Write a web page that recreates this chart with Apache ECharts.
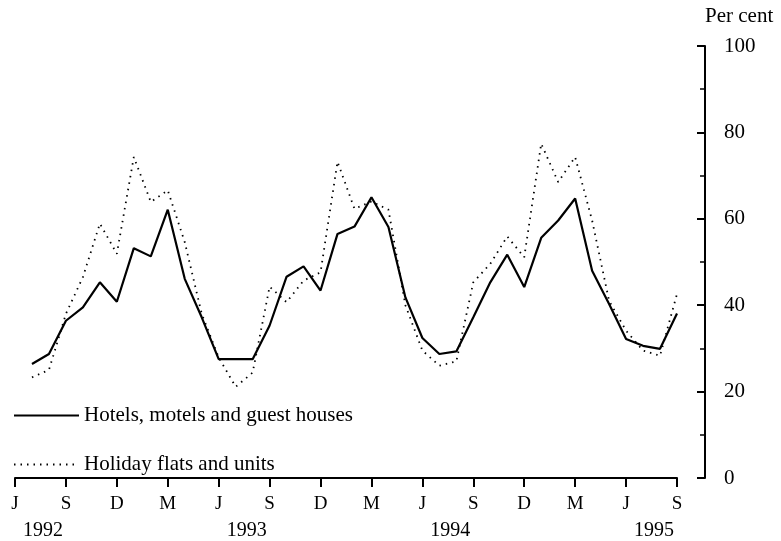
<!DOCTYPE html>
<html>
<head>
<meta charset="utf-8">
<script src="https://cdn.jsdelivr.net/npm/echarts@6/dist/echarts.min.js"></script>
<style>
html,body{margin:0;padding:0;background:#fff}
#chart{width:781px;height:541px}
</style>
</head>
<body>
<div id="chart"></div>
<script>
// months on the axis, Jun 1992 .. Sep 1995 (first month has no data)
var months = [
  '1992-06','1992-07','1992-08','1992-09','1992-10','1992-11','1992-12',
  '1993-01','1993-02','1993-03','1993-04','1993-05','1993-06','1993-07','1993-08','1993-09','1993-10','1993-11','1993-12',
  '1994-01','1994-02','1994-03','1994-04','1994-05','1994-06','1994-07','1994-08','1994-09','1994-10','1994-11','1994-12',
  '1995-01','1995-02','1995-03','1995-04','1995-05','1995-06','1995-07','1995-08','1995-09'
];
// quarter letters for the tick labels
var quarterMonths = ['06','09','12','03'];
var quarterLetters = ['J','S','D','M'];
var yearLabels = ['1992','1993','1994','1995'];

// Jul 1992 .. Sep 1995
var hotels = [26.4,28.7,36.4,39.5,45.3,40.8,
  53.2,51.3,62.1,46.1,37.2,27.5,27.5,27.5,35.3,46.6,49.0,43.4,
  56.5,58.2,65.0,58.1,41.8,32.4,28.7,29.3,37.2,45.3,51.7,44.2,
  55.6,59.6,64.7,48.0,40.3,32.2,30.6,29.9,38.1];
var holidayFlats = [23.3,25.0,38.0,46.5,58.9,51.9,
  74.3,63.9,66.6,54.6,38.0,27.9,21.1,24.4,44.3,40.7,45.7,47.6,
  73.2,62.3,64.0,62.1,40.0,29.5,26.0,27.0,45.3,49.6,55.9,51.1,
  77.4,68.5,74.3,59.6,41.0,34.1,29.5,28.3,42.6];

var font = 'Liberation Serif';
var chart = echarts.init(document.getElementById('chart'));

function isQuarter(idx){ return idx % 3 === 0; }

var option = {
  backgroundColor: '#fff',
  animation: false,
  textStyle: {fontFamily: font, color: '#000'},
  grid: {left: 15, right: 104, top: 46, bottom: 63},
  legend: {
    orient: 'vertical',
    left: 8,
    top: 400,
    itemWidth: 65,
    itemHeight: 20,
    itemGap: 28,
    itemStyle: {opacity: 0},
    textStyle: {fontFamily: font, fontSize: 21, color: '#000'},
    data: ['Hotels, motels and guest houses', 'Holiday flats and units']
  },
  xAxis: [{
    type: 'category',
    data: months,
    boundaryGap: false,
    axisLine: {lineStyle: {color: '#000', width: 2}},
    axisTick: {interval: function(idx){ return isQuarter(idx); }, length: 9, lineStyle: {color: '#000', width: 2}},
    axisLabel: {
      interval: function(idx){ return isQuarter(idx); },
      margin: 17,
      fontFamily: font, fontSize: 19, color: '#000',
      formatter: function(v){ return quarterLetters[quarterMonths.indexOf(v.slice(5))]; }
    },
    splitLine: {show: false}
  }, {
    type: 'category',
    data: months,
    boundaryGap: false,
    position: 'bottom',
    axisLine: {show: false},
    axisTick: {show: false},
    axisLabel: {
      interval: function(idx){ return idx % 12 === 1; },
      margin: 43,
      padding: [0, 0, 0, 22],
      fontFamily: font, fontSize: 20, color: '#000',
      formatter: function(v){ return yearLabels[yearLabels.indexOf(v.slice(0, 4))]; }
    },
    splitLine: {show: false}
  }],
  yAxis: {
    type: 'value',
    position: 'right',
    offset: 28,
    min: 0, max: 100, interval: 20,
    name: 'Per cent',
    nameLocation: 'end',
    nameGap: 19,
    nameTextStyle: {fontFamily: font, fontSize: 21, color: '#000', align: 'left'},
    axisLine: {show: true, lineStyle: {color: '#000', width: 2}},
    axisTick: {show: true, inside: true, length: 8, lineStyle: {color: '#000', width: 2}},
    minorTick: {show: true, splitNumber: 2, length: 5, lineStyle: {color: '#000', width: 1.5}},
    axisLabel: {margin: 19, fontFamily: font, fontSize: 21, color: '#000'},
    splitLine: {show: false}
  },
  series: [{
    name: 'Hotels, motels and guest houses',
    type: 'line',
    data: [null].concat(hotels),
    symbol: 'none',
    lineStyle: {color: '#000', width: 2.2},
    itemStyle: {color: '#000'}
  }, {
    name: 'Holiday flats and units',
    type: 'line',
    data: [null].concat(holidayFlats),
    symbol: 'none',
    lineStyle: {color: '#000', width: 1.8, type: [1.5, 5]},
    itemStyle: {color: '#000'}
  }]
};
chart.setOption(option);
</script>
</body>
</html>
